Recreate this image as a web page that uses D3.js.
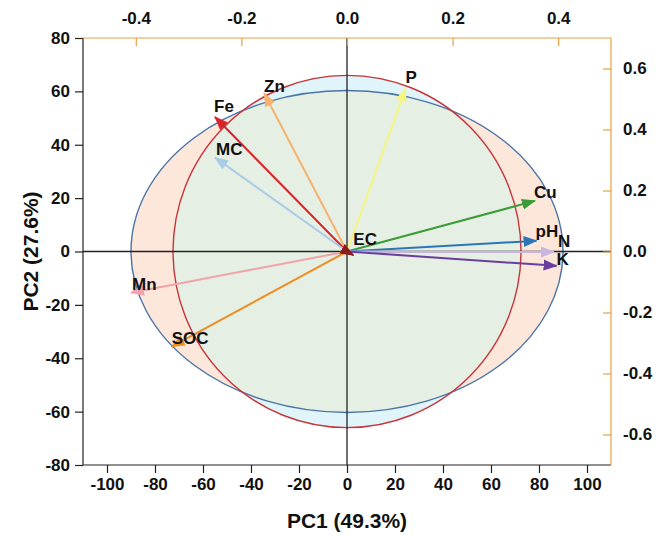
<!DOCTYPE html>
<html>
<head>
<meta charset="utf-8">
<script src="https://cdn.jsdelivr.net/npm/d3@7"></script>
<style>
    body { margin: 0; background: #fff; }
    text { font-family: 'Liberation Sans', Arial, sans-serif; font-weight: bold; fill: #111; }
</style>
</head>
<body>
<svg id="chart"></svg>
<script>
    // variables and their loadings (read on the top / right axes)
    const variables = ["Fe", "Zn", "P", "MC", "Cu", "pH", "N", "K", "Mn", "SOC", "EC"];
    const pc1Loading = [-0.250, -0.157, 0.111, -0.250, 0.356, 0.359, 0.392, 0.397, -0.409, -0.332, 0.012];
    const pc2Loading = [0.441, 0.519, 0.535, 0.308, 0.166, 0.035, -0.002, -0.047, -0.135, -0.312, -0.012];
    const arrowColors = ["#d7262b", "#f5b36e", "#f6f57e", "#a9cbe6", "#3b9c38", "#2b77b6", "#c9b6e0", "#6a3e9c", "#f1a2aa", "#ef8b20", "#8b1c1c"];

    // ellipses, in PC score units (bottom / left axes)
    const ellipseRx = [90, 72.5];
    const ellipseRy = [60.3, 66];

    const xTicks = d3.range(-100, 101, 20);
    const yTicks = d3.range(-80, 81, 20);
    const topTicks = [-0.4, -0.2, 0.0, 0.2, 0.4];
    const rightTicks = [-0.6, -0.4, -0.2, 0.0, 0.2, 0.4, 0.6];

    const width = 666, height = 535;
    const plotLeft = 83, plotRight = 611, plotTop = 38, plotBottom = 465;
    const orange = "#eba040";

    // hyphen as minus sign, like the original
    const locale = d3.formatLocale({ decimal: ".", thousands: ",", grouping: [3], currency: ["", ""], minus: "-" });
    const fmtInt = locale.format("d");
    const fmtDec = locale.format(".1f");

    const svg = d3.select("#chart").attr("width", width).attr("height", height);

    const x = d3.scaleLinear().domain([-110, 110]).range([plotLeft, plotRight]);
    const y = d3.scaleLinear().domain([-80, 80]).range([plotBottom, plotTop]);
    const xTop = d3.scaleLinear().domain([-0.5, 0.5]).range([plotLeft, plotRight]);
    const yRight = d3.scaleLinear().domain([-0.7, 0.7]).range([plotBottom, plotTop]);

    // ellipses: blue one peach, red one cyan, overlap green
    const cx = x(0), cy = y(0);
    const defs = svg.append("defs");
    defs.append("clipPath").attr("id", "blueClip")
        .append("ellipse")
        .attr("cx", cx).attr("cy", cy)
        .attr("rx", x(ellipseRx[0]) - cx).attr("ry", cy - y(ellipseRy[0]));

    svg.append("ellipse")
        .attr("cx", cx).attr("cy", cy)
        .attr("rx", x(ellipseRx[0]) - cx).attr("ry", cy - y(ellipseRy[0]))
        .attr("fill", "#fde6da");
    svg.append("ellipse")
        .attr("cx", cx).attr("cy", cy)
        .attr("rx", x(ellipseRx[1]) - cx).attr("ry", cy - y(ellipseRy[1]))
        .attr("fill", "#dff5f9");
    svg.append("ellipse")
        .attr("clip-path", "url(#blueClip)")
        .attr("cx", cx).attr("cy", cy)
        .attr("rx", x(ellipseRx[1]) - cx).attr("ry", cy - y(ellipseRy[1]))
        .attr("fill", "#e5efe3");
    svg.append("ellipse")
        .attr("cx", cx).attr("cy", cy)
        .attr("rx", x(ellipseRx[0]) - cx).attr("ry", cy - y(ellipseRy[0]))
        .attr("fill", "none").attr("stroke", "#4a74a6").attr("stroke-width", 1.4);
    svg.append("ellipse")
        .attr("cx", cx).attr("cy", cy)
        .attr("rx", x(ellipseRx[1]) - cx).attr("ry", cy - y(ellipseRy[1]))
        .attr("fill", "none").attr("stroke", "#c8343a").attr("stroke-width", 1.4);

    // zero lines
    svg.append("line")
        .attr("x1", x(0)).attr("x2", x(0)).attr("y1", plotTop).attr("y2", plotBottom)
        .attr("stroke", "#222").attr("stroke-width", 1.3);
    svg.append("line")
        .attr("x1", plotLeft).attr("x2", plotRight).attr("y1", y(0)).attr("y2", y(0))
        .attr("stroke", "#222").attr("stroke-width", 1.3);

    // arrows
    arrowColors.forEach((c, i) => {
        defs.append("marker")
            .attr("id", "head" + i)
            .attr("markerUnits", "userSpaceOnUse")
            .attr("viewBox", "0 -6 14 12")
            .attr("refX", 13).attr("refY", 0)
            .attr("markerWidth", 14).attr("markerHeight", 12)
            .attr("orient", "auto")
            .append("path")
            .attr("d", "M0,-5.5L14,0L0,5.5Z")
            .attr("fill", c);
    });

    variables.forEach((v, i) => {
        svg.append("line")
            .attr("x1", xTop(0)).attr("y1", yRight(0))
            .attr("x2", xTop(pc1Loading[i])).attr("y2", yRight(pc2Loading[i]))
            .attr("stroke", arrowColors[i])
            .attr("stroke-width", 2)
            .attr("marker-end", "url(#head" + i + ")");
    });

    // label offsets from arrow tips (px)
    const labelShift = {
        Fe: [-1, -5], Zn: [0, -1], P: [0, -5], MC: [1, -3], Cu: [-1, -3],
        pH: [-1, -4], N: [4, -5], K: [0, -1], Mn: [1, -3], SOC: [0, -3], EC: [0, -10]
    };
    variables.forEach((v, i) => {
        svg.append("text")
            .attr("x", xTop(pc1Loading[i]) + labelShift[v][0])
            .attr("y", yRight(pc2Loading[i]) + labelShift[v][1])
            .attr("font-size", 17)
            .text(v);
    });

    // axes
    const tickFont = g => g.selectAll("text")
        .style("font-family", "'Liberation Sans', Arial, sans-serif")
        .style("font-weight", "bold").style("font-size", "17px").attr("fill", "#111");

    const bottomAxis = svg.append("g").attr("transform", `translate(0,${plotBottom})`)
        .call(d3.axisBottom(x).tickValues(d3.range(-110, 111, 10)).tickSize(4).tickFormat(""));
    bottomAxis.call(d3.axisBottom(x).tickValues(xTicks).tickSize(8).tickPadding(5).tickFormat(fmtInt))
        .call(tickFont);
    bottomAxis.selectAll("path,line").attr("stroke", "#222").attr("stroke-width", 1.2);
    bottomAxis.select(".domain").attr("d", `M${plotLeft},0H${plotRight}`);

    const leftAxis = svg.append("g").attr("transform", `translate(${plotLeft},0)`)
        .call(d3.axisLeft(y).tickValues(d3.range(-70, 71, 20)).tickSize(4).tickFormat(""));
    leftAxis.call(d3.axisLeft(y).tickValues(yTicks).tickSize(8).tickPadding(5).tickFormat(fmtInt))
        .call(tickFont);
    leftAxis.selectAll("path,line").attr("stroke", "#222").attr("stroke-width", 1.2);
    leftAxis.select(".domain").attr("d", `M0,${plotTop}V${plotBottom}`);

    const topAxis = svg.append("g").attr("transform", `translate(0,${plotTop})`)
        .call(d3.axisTop(xTop).tickValues(d3.range(-0.5, 0.51, 0.1)).tickSize(-4).tickFormat(""));
    topAxis.call(d3.axisTop(xTop).tickValues(topTicks).tickSize(-8).tickPadding(14).tickFormat(fmtDec))
        .call(tickFont);
    topAxis.selectAll("path,line").attr("stroke", orange).attr("stroke-width", 1.2);
    topAxis.select(".domain").attr("d", `M${plotLeft},0H${plotRight}`);

    const rightAxis = svg.append("g").attr("transform", `translate(${plotRight},0)`)
        .call(d3.axisRight(yRight).tickValues(d3.range(-0.7, 0.71, 0.1)).tickSize(-4).tickFormat(""));
    rightAxis.call(d3.axisRight(yRight).tickValues(rightTicks).tickSize(-8).tickPadding(12).tickFormat(fmtDec))
        .call(tickFont);
    rightAxis.selectAll("path,line").attr("stroke", orange).attr("stroke-width", 1.2);
    rightAxis.select(".domain").attr("d", `M0,${plotTop}V${plotBottom}`);

    // axis titles
    svg.append("text")
        .attr("x", x(0)).attr("y", 528)
        .attr("text-anchor", "middle").attr("font-size", 21)
        .text("PC1 (49.3%)");
    svg.append("text")
        .attr("transform", `translate(38,${y(0)}) rotate(-90)`)
        .attr("text-anchor", "middle").attr("font-size", 21)
        .text("PC2 (27.6%)");
</script>
</body>
</html>
